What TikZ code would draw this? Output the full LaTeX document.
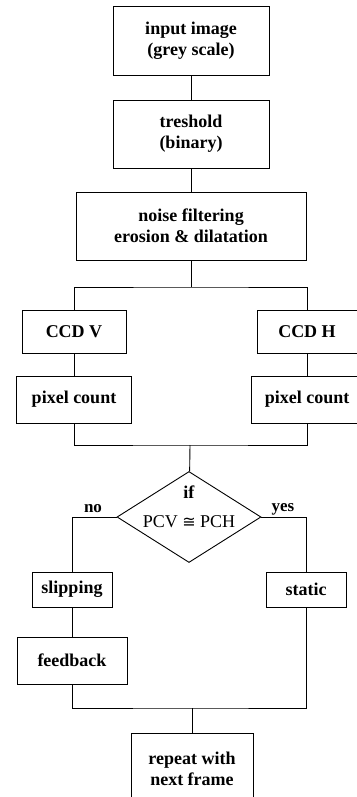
\documentclass[tikz,border=0pt]{standalone}
\usepackage{fontspec}
\setmainfont{Liberation Serif}
\newfontfamily\symfnt{DejaVu Sans}
\usepackage{tikz}
\usetikzlibrary{shapes.geometric}

\begin{document}
\begin{tikzpicture}[x=1pt,y=-1pt,line width=0.9pt,blk/.style 2 args={draw,rectangle,minimum width=#1pt,minimum height=#2pt,align=center,inner sep=0pt,font=\bfseries\fontsize{18}{21}\selectfont},dec/.style={draw,diamond,aspect=1.58,minimum width=144pt,minimum height=91pt,inner xsep=0pt,inner ysep=-20pt,align=center,text depth=21pt,font=\fontsize{18}{29}\selectfont},lbl/.style={inner sep=0pt,font=\bfseries\fontsize{17}{20}\selectfont}]
\useasboundingbox (0,0) rectangle (356,797);
\node[blk={156}{69}] (input) at (191,40.5) {input image\\(grey scale)};
\node[blk={156}{68}] (tresh) at (191,134) {treshold\\(binary)};
\node[blk={230}{68}] (noise) at (191,226) {noise filtering\\erosion \& dilatation};
\node[blk={104}{43}] (ccdv) at (74,331.5) {CCD V};
\node[blk={100}{43}] (ccdh) at (307,331.5) {CCD H};
\node[blk={115}{47}] (pixl) at (74,399.5) {pixel count};
\node[blk={112}{47}] (pixr) at (307,399.5) {pixel count};
\node[dec] (cmp) at (189,517) {\textbf{if}\\PCV {\symfnt\fontsize{16}{16}\selectfont ≅} PCH};
\node[lbl] (no) at (93,509) {no};
\node[lbl] (yes) at (283,509) {yes};
\node[blk={80}{35}] (slip) at (72,589.5) {slipping};
\node[blk={80}{35}] (static) at (306,589.5) {static};
\node[blk={110}{47}] (feedb) at (72,660.5) {feedback};
\node[blk={122}{72}] (repeat) at (192,769) {repeat with\\next frame};
\coordinate (split) at (191,287);
\coordinate (join) at (190,445);
\coordinate (join2) at (192,708);
% top column
\draw (input) -- (tresh);
\draw (tresh) -- (noise);
\draw (noise) -- (split);
% two cameras
\draw (ccdv) |- (split) -| (ccdh);
\draw (ccdv) -- (pixl);
\draw (ccdh) -- (pixr);
\draw (pixl) |- (join) -| (pixr);
\draw (join) -- (cmp);
% decision
\draw (cmp) -| (slip);
\draw (cmp) -| (static);
\draw (slip) -- (feedb);
\draw (feedb) |- (join2) -| (static);
\draw (join2) -- (repeat);
\end{tikzpicture}
\end{document}
